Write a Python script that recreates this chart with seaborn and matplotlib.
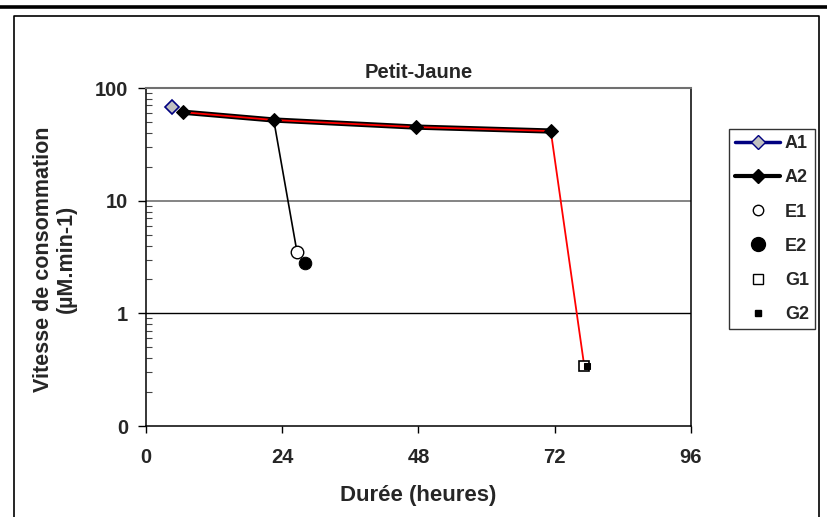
import numpy as np
import pandas as pd
import matplotlib
matplotlib.use("Agg")
import matplotlib.pyplot as plt
from matplotlib.lines import Line2D
from matplotlib.ticker import LogLocator, FixedLocator, FixedFormatter, NullFormatter
import seaborn as sns

# ---- data ----
a1_x = [4.5]
a1_y = [68]
a2_x = [6.5, 22.5, 47.5, 71.3]
a2_y = [61, 52, 45, 41.5]
e1_x = [26.6]
e1_y = [3.5]
e2_x = [28.0]
e2_y = [2.8]
g1_x = [77.2]
g1_y = [0.34]
g2_x = [77.7]
g2_y = [0.34]
# decay lines (from the A2 curve to the end points)
eline_x = [22.5, 26.6]
eline_y = [52, 3.5]
gline_x = a2_x + g1_x
gline_y = a2_y + g1_y

x_ticks = [0, 24, 48, 72, 96]
y_ticks = [0.1, 1, 10, 100]
y_ticklabels = ["0", "1", "10", "100"]

sns.set_theme(style="white")
plt.rcParams["font.family"] = ["Liberation Sans", "DejaVu Sans"]
plt.rcParams["font.weight"] = "bold"

W, H = 828, 517
fig = plt.figure(figsize=(W / 100, H / 100), dpi=100)
L, R, T, B = 146, 691, 88, 426
ax = fig.add_axes([L / W, 1 - B / H, (R - L) / W, (B - T) / H])

def df(x, y):
    return pd.DataFrame({"x": x, "y": y})

# lines
sns.lineplot(data=df(a2_x, a2_y), x="x", y="y", ax=ax, sort=False, estimator=None,
             color="black", lw=3.8, zorder=3)
sns.lineplot(data=df(gline_x, gline_y), x="x", y="y", ax=ax, sort=False, estimator=None,
             color="#ff0000", lw=1.3, zorder=4)
sns.lineplot(data=df(eline_x, eline_y), x="x", y="y", ax=ax, sort=False, estimator=None,
             color="black", lw=1.2, zorder=4)

# markers
sns.lineplot(data=df(a2_x, a2_y), x="x", y="y", ax=ax, sort=False, estimator=None,
             lw=0, marker="D", markersize=7.5, color="black", markeredgecolor="black", zorder=5)
sns.lineplot(data=df(a1_x, a1_y), x="x", y="y", ax=ax, sort=False, estimator=None,
             lw=0, marker="D", markersize=7.5, color="#c0c0c0", markerfacecolor="#c0c0c0",
             markeredgecolor="#000080", markeredgewidth=1.2, zorder=5)
sns.lineplot(data=df(e1_x, e1_y), x="x", y="y", ax=ax, sort=False, estimator=None,
             lw=0, marker="o", markersize=9, markerfacecolor="white",
             markeredgecolor="black", markeredgewidth=1.0, zorder=5)
sns.lineplot(data=df(e2_x, e2_y), x="x", y="y", ax=ax, sort=False, estimator=None,
             lw=0, marker="o", markersize=9, color="black", markerfacecolor="black",
             markeredgecolor="black", zorder=5)
sns.lineplot(data=df(g1_x, g1_y), x="x", y="y", ax=ax, sort=False, estimator=None,
             lw=0, marker="s", markersize=6.5, markerfacecolor="white",
             markeredgecolor="black", markeredgewidth=1.2, zorder=5)
sns.lineplot(data=df(g2_x, g2_y), x="x", y="y", ax=ax, sort=False, estimator=None,
             lw=0, marker="s", markersize=5, color="black", markerfacecolor="black",
             markeredgecolor="black", zorder=6)

ax.set_yscale("log")
ax.set_ylim(0.1, 100)
ax.set_xlim(0, 96)
ax.set_xticks(x_ticks)
ax.set_xticklabels([str(v) for v in x_ticks])
ax.yaxis.set_major_locator(FixedLocator(y_ticks))
ax.yaxis.set_major_formatter(FixedFormatter(y_ticklabels))
ax.yaxis.set_minor_locator(LogLocator(base=10, subs=np.arange(2, 10)))
ax.yaxis.set_minor_formatter(NullFormatter())

ax.tick_params(axis="x", which="major", direction="out", length=5, width=1,
               pad=11, labelsize=14.5, color="black", bottom=True)
ax.tick_params(axis="y", which="major", direction="out", length=6, width=1,
               pad=7, labelsize=14.5, color="black", left=True)
ax.tick_params(axis="y", which="minor", direction="in", length=4, width=0.8,
               color="#444444", left=True)
for lab in ax.get_xticklabels() + ax.get_yticklabels():
    lab.set_fontweight("bold")

# grid lines at 10 and 1
ax.axhline(10, color="#707070", lw=1.2, zorder=1)
ax.axhline(1, color="black", lw=1.0, zorder=1)

for side in ["left", "bottom", "right"]:
    ax.spines[side].set_color("black")
    ax.spines[side].set_linewidth(1.1)
ax.spines["top"].set_color("#707070")
ax.spines["top"].set_linewidth(1.5)
ax.set_xlabel("")
ax.set_ylabel("")

# titles / labels
fig.text((L + R) / 2 / W, 1 - 73 / H, "Petit-Jaune", ha="center", va="center",
         fontsize=14.5, fontweight="bold")
fig.text((L + R) / 2 / W, 1 - 496 / H, "Durée (heures)", ha="center", va="center",
         fontsize=16, fontweight="bold")
fig.text(55 / W, 1 - 259 / H, "Vitesse de consommation\n(µM.min-1)", ha="center",
         va="center", rotation=90, fontsize=15.5, fontweight="bold", linespacing=1.15)

# legend
handles = [
    Line2D([], [], color="#000080", lw=2.5, marker="D", markersize=7.5,
           markerfacecolor="#c0c0c0", markeredgecolor="#000080"),
    Line2D([], [], color="black", lw=3, marker="D", markersize=7.5,
           markerfacecolor="black", markeredgecolor="black"),
    Line2D([], [], lw=0, marker="o", markersize=7.5, markerfacecolor="white",
           markeredgecolor="black"),
    Line2D([], [], lw=0, marker="o", markersize=10, markerfacecolor="black",
           markeredgecolor="black"),
    Line2D([], [], lw=0, marker="s", markersize=6.5, markerfacecolor="white",
           markeredgecolor="black"),
    Line2D([], [], lw=0, marker="s", markersize=5, markerfacecolor="black",
           markeredgecolor="black"),
]
leg = fig.legend(handles, ["A1", "A2", "E1", "E2", "G1", "G2"],
                 loc="upper left", bbox_to_anchor=(729 / W, 1 - 129 / H),
                 frameon=True, fancybox=False, edgecolor="black",
                 prop={"weight": "bold", "size": 13, "family": "Liberation Sans"},
                 handlelength=2.5, handletextpad=0.25, labelspacing=0.95,
                 borderpad=0.35, borderaxespad=0)
leg.get_frame().set_linewidth(1.0)

# outer chart frame
fig.add_artist(Line2D([0, 1], [1 - 7 / H] * 2, transform=fig.transFigure,
                      color="black", lw=2.6))
fig.add_artist(Line2D([14 / W, 14 / W, 819 / W, 819 / W],
                      [0, 1 - 16 / H, 1 - 16 / H, 0], transform=fig.transFigure,
                      color="black", lw=1.2))

fig.savefig("out.png", dpi=100)
